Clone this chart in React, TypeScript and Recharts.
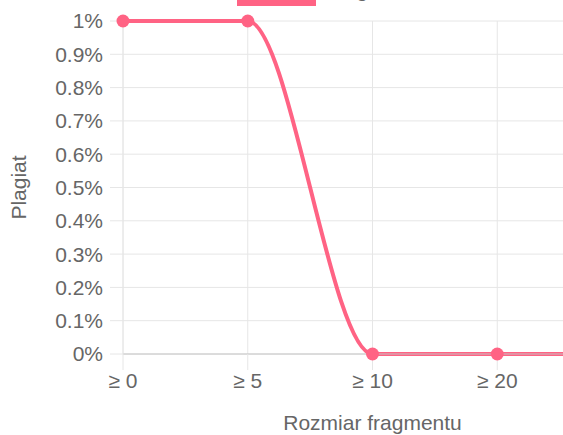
import React from "react";
import { LineChart, Line, XAxis, YAxis, CartesianGrid } from "recharts";

const categories = ["≥ 0", "≥ 5", "≥ 10", "≥ 20", "≥ 50"];
const plagiat = [1, 1, 0, 0, 0];
const yTicks = [0, 0.1, 0.2, 0.3, 0.4, 0.5, 0.6, 0.7, 0.8, 0.9, 1];

const data = categories.map((c, i) => ({ name: c, value: plagiat[i] }));

const FONT = "'Liberation Sans', Arial, Helvetica, sans-serif";
const TEXT = "#666";
const RED = "#ff6384";
const GRID = "#e6e6e6";

const fmt = (v: number) => `${Number(v.toFixed(1))}%`;

const YLabel = ({ viewBox }: any) => {
  const cx = viewBox.x + 18;
  const cy = viewBox.y + viewBox.height / 2;
  return (
    <text
      x={cx}
      y={cy}
      transform={`rotate(-90, ${cx}, ${cy})`}
      textAnchor="middle"
      dominantBaseline="central"
      fill={TEXT}
      fontSize={21}
      fontFamily={FONT}
    >
      Plagiat
    </text>
  );
};

export default function App() {
  return (
    <div
      style={{
        position: "fixed",
        left: 0,
        top: 0,
        width: 563,
        height: 435,
        overflow: "hidden",
        background: "#fff",
        fontFamily: FONT,
      }}
    >
      {/* legend, mostly cut off at the top */}
      <div style={{ position: "absolute", left: 237, top: -15, width: 79, height: 21, background: RED }} />
      <div
        style={{
          position: "absolute",
          left: 326,
          top: -21,
          fontSize: 21,
          lineHeight: "21px",
          color: TEXT,
        }}
      >
        Plagiat
      </div>

      <div style={{ position: "absolute", left: 0, top: -30 }}>
        <LineChart
          width={680}
          height={465}
          data={data}
          margin={{ top: 51, right: 58, bottom: 0, left: 0 }}
        >
          <CartesianGrid stroke={GRID} strokeWidth={1} />
          <XAxis
            dataKey="name"
            height={81}
            tick={{ fill: TEXT, fontSize: 21, fontFamily: FONT }}
            tickLine={{ stroke: GRID }}
            tickSize={16}
            tickMargin={3}
            axisLine={{ stroke: "#c4c4c4" }}
            interval={0}
            label={{
              value: "Rozmiar fragmentu",
              position: "insideBottom",
              offset: 5,
              fill: TEXT,
              fontSize: 21,
              fontFamily: FONT,
            }}
          />
          <YAxis
            width={123}
            domain={[0, 1]}
            ticks={yTicks}
            tickFormatter={fmt}
            tick={{ fill: TEXT, fontSize: 21, fontFamily: FONT }}
            tickLine={{ stroke: GRID }}
            tickSize={13}
            tickMargin={7}
            axisLine={{ stroke: GRID }}
            interval={0}
            label={<YLabel />}
          />
          <Line
            type="monotone"
            dataKey="value"
            stroke={RED}
            strokeWidth={4}
            dot={{ r: 6.5, fill: RED, stroke: RED, strokeWidth: 0 }}
            activeDot={false}
            isAnimationActive={false}
          />
        </LineChart>
      </div>
    </div>
  );
}
